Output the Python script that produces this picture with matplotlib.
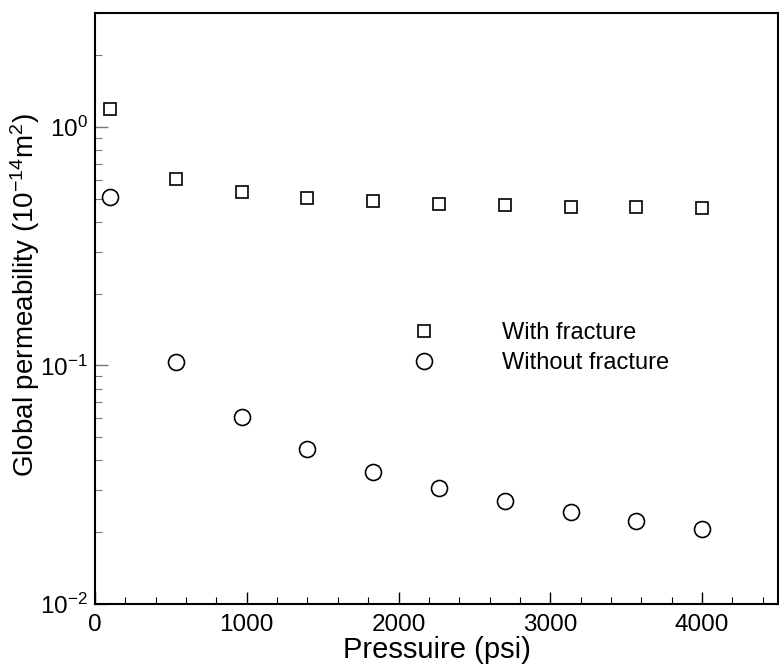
import matplotlib
matplotlib.use("Agg")
import matplotlib.pyplot as plt
from matplotlib.ticker import MultipleLocator, LogLocator, NullFormatter

plt.rcParams['font.family'] = ['Liberation Sans', 'DejaVu Sans']
plt.rcParams['mathtext.fontset'] = 'custom'
plt.rcParams['mathtext.rm'] = 'Liberation Sans'
plt.rcParams['mathtext.it'] = 'Liberation Sans'
plt.rcParams['axes.unicode_minus'] = False

pressure = [100, 533, 967, 1400, 1833, 2267, 2700, 3133, 3567, 4000]
with_fracture = [1.19, 0.605, 0.532, 0.504, 0.488, 0.475, 0.469, 0.463, 0.461, 0.456]
without_fracture = [0.507, 0.103, 0.0608, 0.0446, 0.0359, 0.0306, 0.0270, 0.0242, 0.0222, 0.0206]
labels = ["With fracture", "Without fracture"]

fig = plt.figure(figsize=(7.79, 6.71), dpi=100)
ax = fig.add_axes([95/779, 1 - 604/671, (778-95)/779, (604-13)/671])

ax.plot(pressure, with_fracture, linestyle='none', marker='s', markersize=8.5,
        markerfacecolor='none', markeredgecolor='black', markeredgewidth=1.2, label=labels[0])
ax.plot(pressure, without_fracture, linestyle='none', marker='o', markersize=11.5,
        markerfacecolor='none', markeredgecolor='black', markeredgewidth=1.2, label=labels[1])

ax.set_yscale('log')
ax.set_xlim(0, 4500)
ax.set_ylim(0.01, 3.0)

ax.xaxis.set_major_locator(MultipleLocator(1000))
ax.xaxis.set_minor_locator(MultipleLocator(200))
ax.yaxis.set_major_locator(LogLocator(base=10, numticks=10))
ax.yaxis.set_minor_locator(LogLocator(base=10, subs=range(2, 10), numticks=20))
ax.yaxis.set_minor_formatter(NullFormatter())

ax.tick_params(axis='both', which='major', direction='in', length=9, width=1.0,
               labelsize=17.5, top=False, right=False, colors='black')
ax.tick_params(axis='both', which='minor', direction='in', length=5, width=0.8,
               top=False, right=False)
ax.tick_params(axis='y', which='both', color='#777777')
ax.tick_params(axis='x', which='major', pad=7)
ax.tick_params(axis='y', which='major', pad=5)

for sp in ax.spines.values():
    sp.set_linewidth(1.5)

ax.set_xlabel("Pressuire (psi)", fontsize=21, labelpad=0)
ax.set_ylabel(r"Global permeability (10$^{\mathregular{-14}}$m$^{\mathregular{2}}$)", fontsize=20)
ax.yaxis.set_label_coords(-0.077, 0.523)

leg = ax.legend(loc='center left', bbox_to_anchor=(0.427, 0.433), frameon=False,
                fontsize=17, handletextpad=2.6, labelspacing=0.35, handlelength=1.4)

fig.savefig("out.png", dpi=100)
